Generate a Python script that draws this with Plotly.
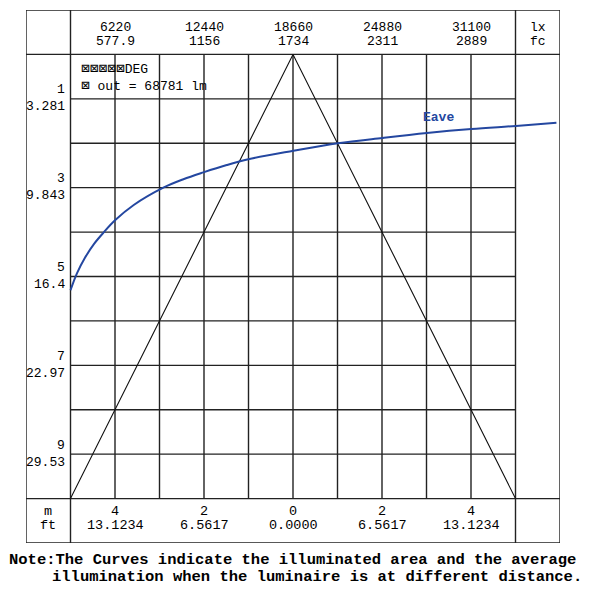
import plotly.graph_objects as go

# ---- data ----
top_pos_m = [-4, -2, 0, 2, 4]
top_lux = ["6220", "12440", "18660", "24880", "31100"]
top_fc = ["577.9", "1156", "1734", "2311", "2889"]

left_depth_m = [1, 3, 5, 7, 9]
left_depth_ft = ["3.281", "9.843", "16.4", "22.97", "29.53"]

bottom_pos_m = [-4, -2, 0, 2, 4]
bottom_m = ["4", "2", "0", "2", "4"]
bottom_ft = ["13.1234", "6.5617", "0.0000", "6.5617", "13.1234"]

# beam edges (half width vs distance)
beam_x = [-5, 0, 5]
beam_d = [10, 0, 10]

# average illuminance curve: lux vs distance (m)
eave_lux = [3110, 3560, 4100, 4770, 5450, 6240, 7530, 9600, 11000, 12400,
            14030, 15540, 18690, 21800, 24910, 28020, 31120, 34240, 37070]
eave_d = [5.31, 4.93, 4.59, 4.26, 4.00, 3.73, 3.39, 3.00, 2.81, 2.655,
          2.49, 2.36, 2.17, 2.00, 1.88, 1.77, 1.68, 1.61, 1.54]

box = '<span style="font-family:DejaVu Sans Mono;font-size:14.5px">\u22A0</span>'
legend_line1 = box * 5 + "DEG"
legend_line2 = box + " out = 68781 lm"
note1 = "Note:The Curves indicate the illuminated area and the average"
note2 = "illumination when the luminaire is at different distance."

# lux scale: grid step in lux per metre, lux=0 at the outer left edge
lux_per_m = (int(top_lux[1]) - int(top_lux[0])) / (top_pos_m[1] - top_pos_m[0])

FONT = "Liberation Mono, Courier New, monospace"
LINE = "#222222"
BLUE = "#2447A0"

fig = go.Figure()

fig.add_trace(go.Scatter(x=beam_x, y=beam_d, mode="lines",
                         line=dict(color="#111111", width=1.1),
                         hoverinfo="skip", showlegend=False))
fig.add_trace(go.Scatter(x=eave_lux, y=eave_d, mode="lines", xaxis="x2",
                         line=dict(color=BLUE, width=2, shape="spline", smoothing=1),
                         hoverinfo="skip", showlegend=False))

shapes = []
def ln(x0, y0, x1, y1, w=1.4):
    shapes.append(dict(type="line", xref="x", yref="y", x0=x0, y0=y0, x1=x1, y1=y1,
                       line=dict(color=LINE, width=w), layer="below"))

# outer box
shapes.append(dict(type="rect", xref="x", yref="y", x0=-6, y0=-1, x1=6, y1=11,
                   line=dict(color=LINE, width=1.4), layer="below"))
# frame lines
for xv in (-5, 5):
    ln(xv, -1, xv, 11)
for yv in (0, 10):
    ln(-6, yv, 6, yv)
# inner grid
for xv in range(-4, 5):
    ln(xv, 0, xv, 10)
for yv in range(1, 10):
    ln(-5, yv, 5, yv)

ann = []
def txt(x, y, s, size=13, anchor="center", color="#000000", bold=False, ref=("x", "y"), pad=1):
    ann.append(dict(x=x, y=y, xref=ref[0], yref=ref[1],
                    text=("<b>%s</b>" % s) if bold else s,
                    showarrow=False, xanchor=anchor, yanchor="middle", borderpad=pad,
                    font=dict(family=FONT, size=size, color=color)))

for p, a, b in zip(top_pos_m, top_lux, top_fc):
    txt(p, -0.617, a)
    txt(p, -0.28, b)
txt(5.5, -0.617, "lx")
txt(5.5, -0.28, "fc")

for d, f in zip(left_depth_m, left_depth_ft):
    txt(-5.07, d - 0.2, str(d), anchor="right")
    txt(-5.07, d + 0.18, f, anchor="right")

for p, a, b in zip(bottom_pos_m, bottom_m, bottom_ft):
    txt(p, 10.29, a, size=13.5)
    txt(p, 10.6, b, size=13.5)
txt(-5.5, 10.29, "m", size=13.5)
txt(-5.5, 10.6, "ft", size=13.5)

txt(-4.8, 0.32, legend_line1, anchor="left")
txt(-4.8, 0.71, legend_line2, anchor="left")

txt(3.26, 1.43, "Eave", color=BLUE, bold=True)

# note below the chart (paper coordinates)
txt(-0.0337, -0.0319, note1, size=15.5, anchor="left", bold=True, ref=("paper", "paper"), pad=0)
txt(0.0468, -0.0647, note2, size=15.5, anchor="left", bold=True, ref=("paper", "paper"), pad=0)

# page body has an 8px margin, so the figure is 592 wide and shifted accordingly
fig.update_layout(
    width=592, height=592,
    margin=dict(l=18, r=40, t=2, b=57),
    paper_bgcolor="white", plot_bgcolor="white",
    xaxis=dict(range=[-6, 6], visible=False, fixedrange=True),
    xaxis2=dict(range=[0, 12 * lux_per_m], overlaying="x", visible=False),
    yaxis=dict(range=[11, -1], visible=False),
    shapes=shapes, annotations=ann, showlegend=False,
)

fig.write_html("out.html")
